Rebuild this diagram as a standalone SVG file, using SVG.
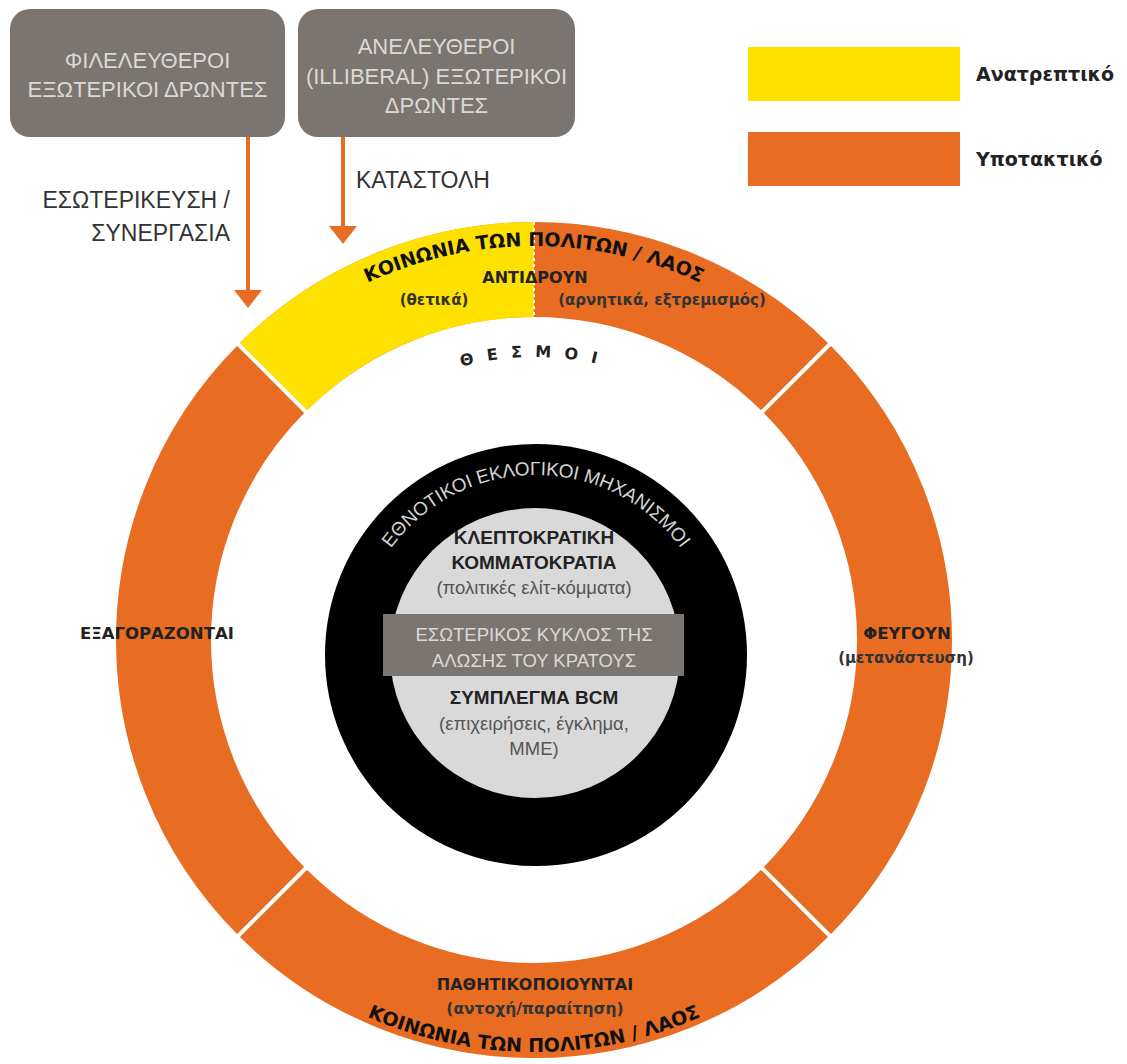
<svg xmlns="http://www.w3.org/2000/svg" xmlns:xlink="http://www.w3.org/1999/xlink" width="1127" height="1064" viewBox="0 0 1127 1064">
<style>
.box{fill:#7b7571}
.boxtxt{font-family:"Liberation Sans",Arial,sans-serif;font-size:22px;fill:#dcd8d4;text-anchor:middle}
.lbl{font-family:"Liberation Sans",Arial,sans-serif;font-size:23px;fill:#333}
.conn{stroke:#e86d23;stroke-width:4;fill:none}
.ringlbl{font-family:"DejaVu Sans",Verdana,sans-serif;font-weight:bold;font-size:16px;fill:#222;text-anchor:middle}
.ringsub{font-family:"DejaVu Sans",Verdana,sans-serif;font-weight:bold;font-size:15px;fill:#333;text-anchor:middle}
.arc{font-family:"DejaVu Sans",Verdana,sans-serif;font-weight:bold;font-size:19px;fill:#111}
.inb{font-family:"Liberation Sans",Arial,sans-serif;font-weight:bold;font-size:19px;fill:#222;text-anchor:middle}
.inr{font-family:"Liberation Sans",Arial,sans-serif;font-size:18.5px;fill:#555;text-anchor:middle}
.leg{font-family:"DejaVu Sans",Verdana,sans-serif;font-weight:bold;font-size:19px;fill:#222}
.sep{stroke:#fff;stroke-width:4}
</style>
<defs>
<marker id="ah" viewBox="0 0 18 28" refX="0" refY="14" markerWidth="18" markerHeight="28" markerUnits="userSpaceOnUse" orient="auto">
<path d="M0,0 L18,14 L0,28 z" fill="#e86d23"/>
</marker>
<path id="topArc" d="M140 640 A394 394 0 0 1 928 640"/>
<path id="botArc" d="M122 640 A412 412 0 0 0 946 640"/>
<path id="thesArc" d="M252 640 A283 283 0 0 1 818 640"/>
<path id="blkArc" d="M356 655 A180 180 0 0 1 716 655"/>
</defs>
<rect width="1127" height="1064" fill="#fff"/>

<g id="ring">
<circle cx="534" cy="640" r="370.5" fill="none" stroke="#e86d23" stroke-width="95"/>
<path d="M238.4 344.4 A418 418 0 0 1 534 222 L534 317 A323 323 0 0 0 305.6 411.6 Z" fill="#ffe100"/>
<line class="sep" x1="236" y1="342" x2="308" y2="414"/>
<line class="sep" x1="832" y1="342" x2="760" y2="414"/>
<line class="sep" x1="832" y1="938" x2="760" y2="866"/>
<line class="sep" x1="236" y1="938" x2="308" y2="866"/>
<line x1="534" y1="222" x2="534" y2="317" stroke="#fff" stroke-width="2" stroke-dasharray="3 3"/>
</g>

<g id="ring-top">
<text class="arc"><textPath href="#topArc" startOffset="50%" text-anchor="middle">ΚΟΙΝΩΝΙΑ ΤΩΝ ΠΟΛΙΤΩΝ / ΛΑΟΣ</textPath></text>
<text class="ringlbl" x="535" y="283">ΑΝΤΙΔΡΟΥΝ</text>
<text class="ringsub" x="434" y="305">(θετικά)</text>
<text class="ringsub" x="662" y="305">(αρνητικά, εξτρεμισμός)</text>
</g>

<g id="thesmoi">
<text style="font-family:'DejaVu Sans',Verdana,sans-serif;font-weight:bold;font-size:16px;fill:#222;letter-spacing:13px"><textPath href="#thesArc" startOffset="50%" text-anchor="middle">ΘΕΣΜΟΙ</textPath></text>
</g>

<g id="ring-left">
<text class="ringlbl" x="80" y="639" style="text-anchor:start;font-size:16.5px">ΕΞΑΓΟΡΑΖΟΝΤΑΙ</text>
</g>

<g id="ring-right">
<text class="ringlbl" x="907" y="639" style="font-size:16.5px">ΦΕΥΓΟΥΝ</text>
<text class="ringsub" x="906" y="663">(μετανάστευση)</text>
</g>

<g id="ring-bottom">
<text class="ringlbl" x="535" y="990">ΠΑΘΗΤΙΚΟΠΟΙΟΥΝΤΑΙ</text>
<text class="ringsub" x="535" y="1014" style="font-size:15.5px">(αντοχή/παραίτηση)</text>
<text class="arc"><textPath href="#botArc" startOffset="50%" text-anchor="middle">ΚΟΙΝΩΝΙΑ ΤΩΝ ΠΟΛΙΤΩΝ / ΛΑΟΣ</textPath></text>
</g>

<g id="core">
<circle cx="536" cy="655" r="211" fill="#000"/>
<text style="font-family:'Liberation Sans',Arial,sans-serif;font-size:19px;fill:#d4d4d4"><textPath href="#blkArc" startOffset="50%" text-anchor="middle">ΕΘΝΟΤΙΚΟΙ ΕΚΛΟΓΙΚΟΙ ΜΗΧΑΝΙΣΜΟΙ</textPath></text>
<circle cx="535" cy="653" r="145" fill="#d9d9d9"/>
<text class="inb" x="534" y="544">ΚΛΕΠΤΟΚΡΑΤΙΚΗ</text>
<text class="inb" x="534" y="569">ΚΟΜΜΑΤΟΚΡΑΤΙΑ</text>
<text class="inr" x="534" y="594">(πολιτικές ελίτ-κόμματα)</text>
<rect x="383" y="614" width="301" height="62" fill="#7b7571"/>
<text class="inr" x="534" y="641" style="fill:#dcd8d4">ΕΣΩΤΕΡΙΚΟΣ ΚΥΚΛΟΣ ΤΗΣ</text>
<text class="inr" x="534" y="667" style="fill:#dcd8d4">ΑΛΩΣΗΣ ΤΟΥ ΚΡΑΤΟΥΣ</text>
<text class="inb" x="534" y="704">ΣΥΜΠΛΕΓΜΑ BCM</text>
<text class="inr" x="534" y="730">(επιχειρήσεις, έγκλημα,</text>
<text class="inr" x="534" y="755">ΜΜΕ)</text>
</g>

<g id="box-liberal">
<rect class="box" x="10" y="9" width="275" height="128" rx="20"/>
<text class="boxtxt" x="147.5" y="68">ΦΙΛΕΛΕΥΘΕΡΟΙ</text>
<text class="boxtxt" x="147.5" y="97">ΕΞΩΤΕΡΙΚΟΙ ΔΡΩΝΤΕΣ</text>
</g>

<g id="box-illiberal">
<rect class="box" x="298" y="9" width="277" height="128" rx="20"/>
<text class="boxtxt" x="436.5" y="54">ΑΝΕΛΕΥΘΕΡΟΙ</text>
<text class="boxtxt" x="436.5" y="84">(ILLIBERAL) ΕΞΩΤΕΡΙΚΟΙ</text>
<text class="boxtxt" x="436.5" y="113">ΔΡΩΝΤΕΣ</text>
</g>

<g id="connectors">
<line class="conn" x1="248" y1="137" x2="248" y2="290" marker-end="url(#ah)"/>
<line class="conn" x1="343" y1="137" x2="343" y2="226" marker-end="url(#ah)"/>
<text class="lbl" x="230" y="208" text-anchor="end">ΕΣΩΤΕΡΙΚΕΥΣΗ /</text>
<text class="lbl" x="230" y="241" text-anchor="end">ΣΥΝΕΡΓΑΣΙΑ</text>
<text class="lbl" x="356" y="188">ΚΑΤΑΣΤΟΛΗ</text>
</g>

<g id="legend">
<rect x="748" y="47" width="212" height="54" fill="#ffe100"/>
<text class="leg" x="976" y="81">Ανατρεπτικό</text>
<rect x="748" y="132" width="212" height="54" fill="#e86d23"/>
<text class="leg" x="976" y="166">Υποτακτικό</text>
</g>
</svg>
